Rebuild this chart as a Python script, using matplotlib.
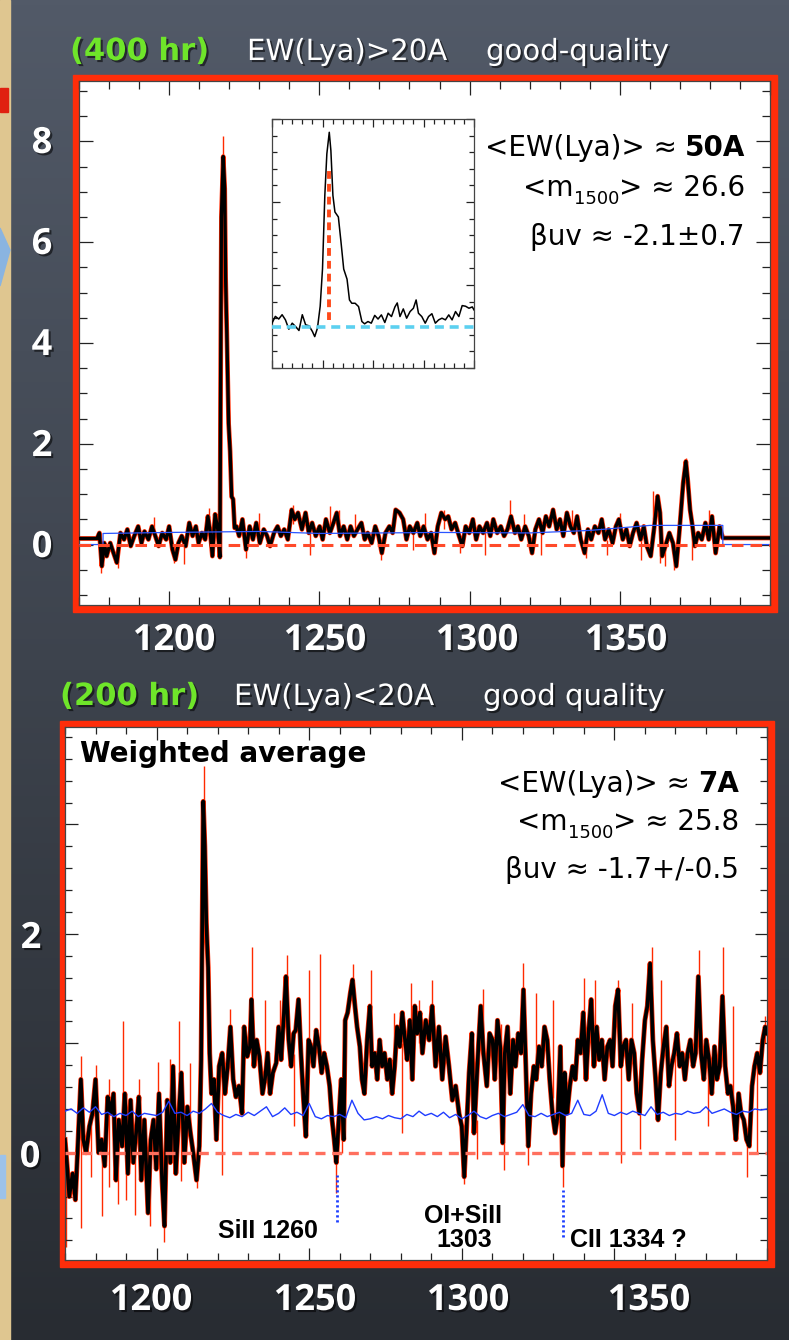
#!/usr/bin/env python3
"""
plot.py
=======
Slide figure: stacked rest-frame UV spectra of Lya emitters.

  Top    - (400 hr) EW(Lya)>20A stack, with a zoom-in inset on Lya
  Bottom - (200 hr) EW(Lya)<20A weighted-average stack, with ISM lines marked

Output:
  out.png (789 x 1340 px)
"""

import numpy as np
import matplotlib
matplotlib.use("Agg")
import matplotlib.pyplot as plt
import matplotlib.patches as mpatches
import matplotlib.patheffects as pe
from matplotlib.ticker import MultipleLocator

# ============================================================
# DATA
# ============================================================
# --- top panel: EW(Lya) > 20A stack (black spectrum) ---
TOP_WAVE = [
    1170.0, 1176.0, 1176.8, 1177.6, 1178.4, 1179.2, 1180.4, 1181.5, 1182.6, 1183.8,
    1185.0, 1186.1, 1187.2, 1188.4, 1189.7, 1190.8, 1191.8, 1193.1, 1194.3, 1195.4,
    1196.5, 1197.7, 1199.0, 1200.0, 1201.1, 1202.1, 1203.1, 1204.2, 1205.5, 1206.7,
    1207.8, 1208.9, 1209.8, 1210.9, 1212.0, 1212.9, 1213.7, 1214.4, 1215.3, 1216.2,
    1216.9, 1217.1, 1217.4, 1218.0, 1218.5, 1218.8, 1219.2, 1219.8, 1220.3, 1220.8,
    1221.3, 1221.8, 1222.4, 1223.3, 1224.4, 1225.6, 1226.8, 1227.9, 1229.0, 1230.2,
    1231.5, 1232.6, 1233.6, 1234.9, 1236.1, 1237.2, 1238.3, 1239.5, 1240.8, 1241.8,
    1242.9, 1244.2, 1245.4, 1246.5, 1247.6, 1248.8, 1250.1, 1251.1, 1252.2, 1253.5,
    1254.7, 1255.8, 1256.9, 1258.1, 1259.3, 1260.4, 1261.5, 1262.7, 1264.0, 1265.1,
    1266.1, 1267.4, 1268.6, 1269.7, 1270.8, 1272.0, 1273.3, 1274.4, 1275.4, 1276.7,
    1277.9, 1279.0, 1280.1, 1281.3, 1282.6, 1283.6, 1284.7, 1286.0, 1287.2, 1288.3,
    1289.4, 1290.6, 1291.9, 1292.9, 1294.0, 1295.2, 1296.5, 1297.6, 1298.7, 1299.9,
    1301.1, 1302.2, 1303.3, 1304.5, 1305.8, 1306.9, 1307.9, 1309.2, 1310.4, 1311.5,
    1312.6, 1313.8, 1315.1, 1316.1, 1317.2, 1318.5, 1319.7, 1320.8, 1321.9, 1323.1,
    1324.3, 1325.4, 1326.5, 1327.8, 1329.0, 1330.1, 1331.2, 1332.4, 1333.6, 1334.7,
    1335.8, 1337.0, 1338.3, 1339.4, 1340.5, 1341.7, 1342.9, 1344.0, 1345.1, 1346.3,
    1347.6, 1348.7, 1349.7, 1351.0, 1352.2, 1353.3, 1354.4, 1355.6, 1356.9, 1358.0,
    1359.0, 1360.3, 1361.5, 1362.6, 1363.4, 1364.1, 1365.2, 1366.5, 1367.7, 1368.8,
    1369.8, 1371.1, 1372.0, 1372.6, 1373.4, 1374.2, 1375.0, 1376.1, 1377.3, 1378.5,
    1379.6, 1380.7, 1381.9, 1383.2, 1384.3, 1400.0,
]
TOP_FLUX = [
    0.12, 0.12, 0.23, -0.43, 0.03, -0.23, 0.03, -0.17, -0.36, 0.23,
    0.10, 0.30, -0.03, 0.17, 0.36, 0.03, 0.26, 0.10, 0.36, 0.17,
    -0.03, 0.23, 0.10, 0.36, -0.10, -0.30, 0.03, 0.17, -0.03, 0.43,
    0.17, 0.36, 0.03, 0.23, 0.10, 0.56, 0.23, -0.23, 0.60, 0.30,
    -0.25, 2.70, 6.50, 7.70, 7.06, 5.30, 4.20, 2.40, 1.85, 0.95,
    0.90, 0.33, 0.36, 0.17, 0.50, -0.10, 0.36, 0.10, 0.43, 0.03,
    0.30, 0.17, -0.03, 0.23, 0.36, 0.17, 0.30, 0.10, 0.69, 0.50,
    0.63, 0.30, 0.63, 0.23, 0.43, 0.17, 0.36, 0.10, 0.50, 0.23,
    0.43, 0.63, 0.17, 0.36, 0.10, 0.36, 0.17, 0.30, 0.43, 0.10,
    0.23, 0.03, 0.36, 0.17, -0.17, 0.23, 0.36, 0.23, 0.69, 0.63,
    0.50, 0.10, 0.36, 0.23, 0.43, 0.17, 0.36, 0.10, 0.23, -0.17,
    0.36, 0.63, 0.50, 0.56, 0.30, 0.43, 0.17, -0.03, 0.36, 0.23,
    0.50, 0.10, 0.36, 0.23, 0.43, 0.17, 0.50, 0.23, 0.36, 0.17,
    0.30, 0.56, 0.23, 0.36, 0.10, 0.36, 0.17, -0.17, 0.30, 0.50,
    0.23, 0.56, 0.36, 0.69, 0.30, 0.50, 0.17, 0.63, 0.36, 0.23,
    0.56, 0.10, -0.17, 0.30, 0.10, 0.36, 0.23, 0.50, 0.10, 0.30,
    0.03, 0.36, 0.50, 0.10, 0.30, -0.03, 0.23, 0.43, 0.10, 0.36,
    -0.03, -0.23, 0.36, 0.96, 0.63, -0.23, -0.03, 0.23, 0.03, -0.43,
    0.23, 1.22, 1.65, 1.29, 0.69, 0.36, -0.03, 0.23, 0.10, 0.43,
    0.10, 0.56, -0.17, 0.36, 0.13, 0.13,
]
# red (unsmoothed) excursions beyond the black trace
TOP_SPIKE_WAVE = [1177.3, 1183.0, 1195.0, 1201.6, 1205.0, 1213.2, 1218.0, 1225.6, 1230.0,
                  1241.1, 1247.0, 1253.5, 1256.5, 1262.0, 1270.5, 1281.3, 1285.0, 1291.4,
                  1296.8, 1305.0, 1313.5, 1318.0, 1323.9, 1334.0, 1338.6, 1345.6, 1350.0,
                  1357.0, 1361.0, 1363.4, 1364.9, 1368.0, 1371.9, 1374.2, 1379.6]
TOP_SPIKE_LO = [-0.56, -0.46, 0.20, -0.36, -0.38, 0.30, 7.50, -0.26, 0.20,
                0.40, -0.20, 0.30, 0.30, 0.25, -0.30, -0.10, 0.20, 0.30,
                -0.17, -0.20, 0.30, 0.20, -0.20, 0.30, -0.26, -0.20, 0.25,
                -0.30, 0.50, -0.36, -0.43, -0.50, 1.40, -0.30, 0.30]
TOP_SPIKE_HI = [0.10, 0.00, 0.55, 0.00, 0.10, 0.73, 8.10, 0.10, 0.62,
                0.79, 0.30, 0.76, 0.69, 0.60, 0.10, 0.20, 0.62, 0.69,
                0.10, 0.30, 0.89, 0.60, 0.20, 0.69, 0.20, 0.10, 0.62,
                0.20, 1.06, 0.40, 0.10, 0.00, 1.72, 0.20, 0.69]
# blue noise spectrum (top)
TOP_NOISE_WAVE = [1170, 1178, 1178, 1200, 1230, 1250, 1290, 1320, 1340, 1360, 1384.3, 1384.3, 1400]
TOP_NOISE_FLUX = [0.00, 0.00, 0.22, 0.24, 0.26, 0.22, 0.24, 0.23, 0.28, 0.38, 0.38, 0.00, 0.00]

# --- inset: zoom on the Lya line (arbitrary units) ---
INSET_X = [0.0, 0.33, 0.67, 1.0, 1.33, 1.67, 2.0, 2.33, 2.67, 3.0,
           3.33, 3.67, 4.0, 4.23, 4.5, 4.77, 5.0, 5.23, 5.43, 5.67,
           5.83, 6.03, 6.23, 6.57, 6.83, 7.1, 7.43, 7.67, 7.9, 8.23,
           8.57, 8.9, 9.17, 9.5, 9.83, 10.17, 10.5, 10.83, 11.17, 11.5,
           11.83, 12.17, 12.4, 12.67, 13.0, 13.33, 13.67, 14.0, 14.27, 14.5,
           14.83, 15.17, 15.5, 15.83, 16.17, 16.5, 16.83, 17.17, 17.5, 17.83,
           18.17, 18.5, 18.83, 19.17, 19.5, 19.83, 20.0]
INSET_Y = [2.70, 3.11, 2.95, 3.21, 2.90, 2.34, 2.70, 2.50, 2.26, 3.21,
           2.60, 2.54, 2.20, 1.89, 2.40, 3.72, 5.96, 10.4, 12.9, 14.2,
           13.1, 10.4, 9.4, 9.1, 7.6, 5.96, 5.35, 4.1, 3.9, 3.9,
           3.7, 2.8, 2.66, 2.8, 2.7, 3.17, 2.95, 3.2, 2.74, 3.3,
           3.1, 3.68, 3.92, 3.1, 3.56, 3.0, 3.4, 3.6, 4.1, 3.3,
           3.1, 2.7, 3.1, 3.27, 2.7, 2.9, 3.0, 2.9, 3.2, 2.9,
           3.4, 3.1, 3.76, 3.72, 3.6, 3.68, 3.5]
INSET_PEAK_X = 5.67
INSET_PEAK_RANGE = [2.9, 12.15]
INSET_CONT = 2.46

# --- bottom panel: EW(Lya) < 20A weighted average ---
BOT_WAVE = [
    1170.0, 1170.7, 1171.4, 1172.5, 1173.4, 1174.1, 1175.2, 1176.0, 1176.9, 1178.0,
    1179.0, 1180.0, 1181.0, 1182.0, 1183.0, 1184.0, 1184.9, 1185.9, 1186.7, 1187.6,
    1188.7, 1189.6, 1190.6, 1191.5, 1192.4, 1193.3, 1194.2, 1195.0, 1196.0, 1197.2,
    1198.1, 1199.0, 1199.9, 1200.8, 1201.8, 1202.6, 1203.5, 1204.5, 1205.4, 1206.3,
    1207.2, 1208.1, 1209.1, 1210.1, 1211.1, 1212.0, 1213.1, 1214.0, 1214.6, 1215.0,
    1215.3, 1215.8, 1216.3, 1216.9, 1217.4, 1218.0, 1218.8, 1219.6, 1220.5, 1221.5,
    1222.4, 1223.3, 1224.2, 1225.1, 1226.0, 1227.0, 1228.0, 1228.7, 1229.7, 1230.6,
    1231.1, 1231.9, 1232.8, 1233.7, 1234.7, 1235.5, 1236.4, 1237.2, 1238.1, 1239.2,
    1240.0, 1240.8, 1241.6, 1242.4, 1243.3, 1244.1, 1244.9, 1245.6, 1246.5, 1247.3,
    1248.1, 1248.9, 1249.8, 1250.6, 1251.4, 1252.3, 1253.2, 1254.1, 1254.9, 1255.8,
    1256.7, 1257.5, 1258.2, 1258.9, 1259.7, 1260.5, 1261.3, 1261.8, 1262.6, 1263.5,
    1264.2, 1265.0, 1265.7, 1266.6, 1267.3, 1268.1, 1269.0, 1269.9, 1270.6, 1271.5,
    1272.3, 1273.1, 1273.9, 1274.7, 1275.6, 1276.4, 1277.2, 1278.0, 1278.8, 1279.7,
    1280.5, 1281.4, 1282.1, 1283.0, 1283.8, 1284.6, 1285.4, 1286.3, 1287.1, 1288.2,
    1289.3, 1290.3, 1291.4, 1292.5, 1293.6, 1294.7, 1295.8, 1296.9, 1298.0, 1299.1,
    1300.0, 1300.8, 1301.5, 1302.4, 1303.3, 1304.0, 1305.1, 1306.2, 1307.1, 1308.2,
    1309.1, 1310.1, 1310.8, 1311.7, 1312.6, 1313.4, 1314.1, 1315.0, 1315.9, 1316.8,
    1317.6, 1318.5, 1319.4, 1320.2, 1321.0, 1321.8, 1322.7, 1323.6, 1324.4, 1325.3,
    1326.2, 1327.1, 1328.0, 1328.8, 1329.7, 1330.6, 1331.5, 1332.3, 1333.0, 1333.7,
    1334.5, 1335.4, 1336.3, 1337.2, 1338.0, 1338.9, 1339.8, 1340.7, 1341.5, 1342.4,
    1343.3, 1344.2, 1345.0, 1345.9, 1346.8, 1347.7, 1348.6, 1349.4, 1350.3, 1351.2,
    1352.1, 1352.9, 1353.8, 1354.7, 1355.6, 1356.5, 1357.3, 1358.2, 1359.1, 1360.0,
    1360.8, 1361.7, 1362.6, 1363.5, 1364.3, 1365.2, 1366.1, 1367.0, 1367.9, 1368.7,
    1369.6, 1370.5, 1371.4, 1372.2, 1373.1, 1374.0, 1374.9, 1375.8, 1376.6, 1377.5,
    1378.4, 1379.3, 1380.1, 1381.0, 1381.9, 1382.8, 1383.6, 1384.5, 1385.4, 1386.3,
    1387.2, 1388.0, 1388.9, 1389.8, 1390.7, 1391.5, 1392.4, 1393.3, 1394.2, 1395.1,
    1395.9, 1396.8, 1397.7, 1398.6, 1399.4, 1400.0,
]
BOT_FLUX = [
    0.12, -0.12, -0.40, -0.19, -0.43, 0.00, 0.67, 0.12, 0.00, 0.24,
    0.36, 0.67, 0.00, 0.12, -0.12, 0.51, 0.36, 0.54, -0.25, 0.30,
    0.06, 0.54, -0.19, 0.48, -0.09, 0.18, 0.51, -0.25, 0.30, -0.55,
    0.12, 0.30, -0.15, 0.54, -0.25, -0.67, 0.48, -0.09, 0.79, -0.19,
    0.30, 0.73, -0.09, 0.42, 0.18, 0.00, -0.25, 0.06, 0.85, 2.19,
    3.21, 2.80, 2.10, 1.69, 0.91, 0.54, 0.67, 0.12, 0.79, 0.91,
    0.54, 0.79, 1.15, 0.67, 0.51, 0.61, 0.36, 1.15, 0.88, 0.97,
    1.40, 0.79, 1.03, 0.88, 0.54, 0.67, 0.91, 0.54, 0.73, 0.82,
    1.15, 0.85, 1.21, 1.61, 1.03, 0.79, 1.09, 1.12, 1.40, 0.91,
    0.51, 0.15, 1.03, 0.97, 0.79, 1.12, 0.97, 0.73, 0.91, 0.79,
    0.61, 0.30, 0.12, -0.09, 0.30, 0.67, 0.12, 1.21, 1.28, 1.46,
    1.58, 1.34, 1.15, 0.97, 0.67, 0.54, 1.03, 1.34, 0.79, 0.91,
    0.67, 1.03, 0.79, 0.91, 0.67, 0.85, 0.54, 0.79, 1.15, 0.97,
    1.28, 1.03, 0.85, 1.21, 0.67, 1.34, 1.09, 1.28, 0.91, 1.21,
    1.03, 1.34, 0.79, 1.15, 0.67, 1.06, 0.79, 0.48, 0.61, 0.36,
    0.24, -0.22, 0.18, 0.73, 1.09, 0.18, 0.79, 1.34, 0.91, 0.61,
    1.09, 1.03, 0.67, 1.21, 0.97, 0.09, 0.91, 1.15, 0.54, 1.03,
    0.79, 1.09, 0.91, 1.49, 0.79, 0.06, 0.54, 0.79, 0.67, 0.97,
    0.79, 1.15, 1.03, 0.67, 0.36, 0.18, 0.36, 0.97, -0.12, 0.73,
    0.36, 0.61, 0.79, 0.67, 1.03, 0.91, 1.28, 0.67, 1.09, 1.40,
    0.79, 1.15, 0.85, 1.03, 0.67, 0.97, 1.03, 0.79, 1.34, 1.49,
    0.79, 0.97, 1.03, 0.67, 1.03, 0.91, 0.54, 0.36, 0.85, 1.21,
    1.34, 1.73, 1.03, 0.67, 0.30, 0.73, 0.97, 1.15, 0.61, 0.79,
    0.91, 1.09, 0.79, 0.91, 0.67, 0.91, 1.03, 0.79, 0.91, 1.61,
    0.91, 0.67, 1.03, 0.85, 0.54, 0.97, 0.67, 0.79, 1.43, 0.79,
    0.54, 0.61, 0.42, 0.12, 0.54, 0.36, 0.30, 0.12, 0.06, 0.61,
    0.79, 0.91, 0.73, 1.03, 1.15, 1.09,
]
BOT_SPIKE_WAVE = [1170.3, 1175.2, 1178.5, 1180.2, 1182.1, 1184.5, 1187.3, 1188.9, 1190.0, 1192.8,
                  1194.4, 1197.7, 1200.4, 1202.3, 1204.3, 1207.4, 1208.1, 1210.9, 1213.3, 1215.4,
                  1221.6, 1224.2, 1231.3, 1235.5, 1240.5, 1242.7, 1244.9, 1249.8, 1253.6, 1258.9,
                  1260.8, 1264.2, 1270.1, 1277.7, 1280.5, 1283.2, 1286.0, 1290.3, 1300.8, 1304.9,
                  1306.8, 1312.8, 1313.9, 1320.2, 1321.8, 1324.3, 1329.8, 1333.0, 1340.2, 1343.5,
                  1351.2, 1352.3, 1355.9, 1358.3, 1362.2, 1365.4, 1369.8, 1377.8, 1380.8, 1385.7,
                  1389.0, 1393.4, 1396.7, 1399.4]
BOT_SPIKE_LO = [-0.86, -0.69, -0.22, 0.30, -0.58, -0.31, -0.47, 0.10, -0.43, -0.57,
                0.20, -0.67, 0.10, -0.82, 0.10, 0.30, -0.26, 0.20, -0.32, 3.00,
                -0.20, 0.90, 1.20, 0.70, 0.90, 1.40, 0.24, 0.90, 0.90, -0.37,
                0.00, 1.40, 1.00, 0.80, 0.18, 1.00, 1.00, 1.10, -0.29, -0.06,
                1.10, 0.90, -0.16, 1.30, -0.11, 0.70, 0.50, -0.31, 0.80, 0.90,
                1.30, -0.09, 0.90, 0.03, 1.50, 0.70, 0.12, 1.40, 0.24, 1.20,
                0.40, -0.22, 0.00, 1.00]
BOT_SPIKE_HI = [0.10, 0.88, 0.30, 0.80, 0.10, 0.67, 0.20, 1.20, 0.10, 0.10,
                0.67, 0.10, 0.83, -0.20, 0.86, 1.20, 0.40, 0.82, 0.00, 3.53,
                0.80, 1.31, 1.88, 1.40, 1.40, 1.81, 0.90, 1.67, 1.82, 0.00,
                0.50, 1.72, 1.67, 1.28, 1.00, 1.55, 1.40, 1.58, 0.00, 0.30,
                1.50, 1.18, 0.30, 1.73, 0.30, 1.46, 1.40, 0.00, 1.60, 1.58,
                1.58, 0.80, 1.37, 0.50, 1.88, 1.58, 0.90, 1.85, 1.00, 1.88,
                1.34, 0.20, 0.80, 1.25]
# blue noise spectrum (bottom), sampled every 2A from 1170 to 1400
BOT_NOISE_FLUX = [
    0.38, 0.40, 0.36, 0.41, 0.37, 0.42, 0.35, 0.37, 0.33, 0.36,
    0.34, 0.38, 0.33, 0.36, 0.35, 0.34, 0.37, 0.47, 0.36, 0.37,
    0.34, 0.38, 0.36, 0.40, 0.45, 0.37, 0.34, 0.32, 0.35, 0.33,
    0.37, 0.34, 0.38, 0.42, 0.33, 0.36, 0.41, 0.35, 0.37, 0.34,
    0.45, 0.33, 0.31, 0.34, 0.33, 0.35, 0.32, 0.48, 0.36, 0.30,
    0.31, 0.33, 0.31, 0.34, 0.32, 0.31, 0.35, 0.33, 0.38, 0.34,
    0.36, 0.33, 0.37, 0.32, 0.35, 0.31, 0.34, 0.38, 0.33, 0.31,
    0.34, 0.36, 0.33, 0.35, 0.37, 0.44, 0.34, 0.33, 0.36, 0.33,
    0.35, 0.37, 0.34, 0.36, 0.48, 0.35, 0.34, 0.38, 0.53, 0.36,
    0.34, 0.37, 0.35, 0.38, 0.36, 0.34, 0.42, 0.35, 0.37, 0.34,
    0.36, 0.35, 0.38, 0.36, 0.37, 0.42, 0.36, 0.38, 0.40, 0.37,
    0.35, 0.38, 0.37, 0.40, 0.39, 0.40,
]
# interstellar absorption markers (blue dotted ticks)
ISM_WAVE = [1259.0, 1333.2]
ISM_TOP = [-0.20, -0.34]
ISM_BOTTOM = [-0.63, -0.77]

# tick label text (drawn on the slide, outside the red frames)
X_LABELS = ["1200", "1250", "1300", "1350"]
TOP_Y_LABELS = ["8", "6", "4", "2", "0"]
BOT_Y_LABELS = ["2", "0"]

# ============================================================
# CONFIGURATION
# ============================================================
W, H = 789, 1340
GREEN = "#6fe52a"
FRAME_RED = "#ff2d0a"
SPIKE_RED = "#ff2a00"
SLIDE_FONT = ["DejaVu Sans"]
NUM_FONT = ["Open Sans", "DejaVu Sans"]
PLOT_FONT = ["Liberation Sans", "DejaVu Sans"]
SHADOW = [pe.withSimplePatchShadow(offset=(1.5, -1.5), shadow_rgbFace="black", alpha=0.55)]
STAT_SIZE = 20

fig = plt.figure(figsize=(W / 100, H / 100), dpi=100)


def fx(x):
    return x / W


def fy(y):
    return 1 - y / H


def rect(x0, y0, x1, y1):
    """Pixel box (top-left origin) -> figure-fraction axes rect."""
    return [x0 / W, 1 - y1 / H, (x1 - x0) / W, (y1 - y0) / H]


def slide_text(x, y, s, **kw):
    kw.setdefault("va", "baseline")
    return fig.text(fx(x), fy(y), s, zorder=20, **kw)


def right_runs(runs, x_right, y_base):
    """Right-aligned line built from (text, size, weight, dy, gap) runs."""
    renderer = fig.canvas.get_renderer()
    x = x_right
    for s, size, weight, dy, gap in reversed(runs):
        t = slide_text(x, y_base + dy, s, ha="right", fontsize=size,
                       fontweight=weight, family=SLIDE_FONT, color="black")
        x -= t.get_window_extent(renderer).width + gap


def style_axes(ax, xmaj, xmin, ymaj, ymin, lmaj, lmin):
    ax.xaxis.set_major_locator(MultipleLocator(xmaj))
    ax.xaxis.set_minor_locator(MultipleLocator(xmin))
    ax.yaxis.set_major_locator(MultipleLocator(ymaj))
    ax.yaxis.set_minor_locator(MultipleLocator(ymin))
    ax.tick_params(which="both", direction="in", top=True, right=True,
                   labelbottom=False, labelleft=False, color="#222222", width=0.9)
    ax.tick_params(which="major", length=lmaj)
    ax.tick_params(which="minor", length=lmin)
    for sp in ax.spines.values():
        sp.set_color("#444444")
        sp.set_linewidth(0.9)


def draw_background():
    bg = fig.add_axes([0, 0, 1, 1], zorder=0)
    bg.set_xlim(0, W)
    bg.set_ylim(H, 0)
    bg.axis("off")
    top = np.array([0x52, 0x5a, 0x68]) / 255
    bot = np.array([0x28, 0x2c, 0x32]) / 255
    t = np.linspace(0, 1, 256)[:, None, None]
    grad = top * (1 - t) + bot * t
    bg.imshow(grad, extent=(0, W, H, 0), aspect="auto", zorder=0)
    # parchment strip and slide leftovers on the left edge
    bg.add_patch(mpatches.Rectangle((0, 0), 10, H, color="#dfc690", zorder=1))
    bg.add_patch(mpatches.Rectangle((0, 88), 8, 24, color="#e02010", zorder=2))
    bg.add_patch(mpatches.Polygon([(0, 228), (10, 250), (0, 286)], color="#8ab4e0", zorder=2))
    bg.add_patch(mpatches.Rectangle((0, 1155), 5, 43, color="#9cc2ea", zorder=2))
    # red frames round the two plots
    bg.add_patch(mpatches.Rectangle((73, 75), 704, 537, color=FRAME_RED, zorder=3))
    bg.add_patch(mpatches.Rectangle((60, 721), 714, 546, color=FRAME_RED, zorder=3))


def draw_top_panel():
    ax = fig.add_axes(rect(79, 81, 770, 605), zorder=2)
    ax.set_facecolor("white")
    ax.set_xlim(1170, 1400)
    ax.set_ylim(-1.2, 9.2)
    style_axes(ax, 50, 10, 2, 0.5, 10, 6)

    ax.vlines(TOP_SPIKE_WAVE, TOP_SPIKE_LO, TOP_SPIKE_HI, color=SPIKE_RED, lw=1.0, zorder=1)
    ax.plot(TOP_WAVE, TOP_FLUX, color=SPIKE_RED, lw=3.4, zorder=2)
    ax.plot(TOP_WAVE, TOP_FLUX, color="black", lw=2.4, zorder=3)
    ax.plot(TOP_NOISE_WAVE, TOP_NOISE_FLUX, color="#2a55ff", lw=0.9, zorder=4)
    ax.axhline(0, color="#ff4a2a", lw=2.2, dashes=(3.8, 2.3), zorder=5)

    # inset zoom on Lya
    axi = fig.add_axes(rect(272, 119, 474, 368), zorder=3)
    axi.set_facecolor("white")
    axi.set_xlim(0, 20)
    axi.set_ylim(0, 15)
    style_axes(axi, 5, 1, 5, 1, 6, 3.5)
    axi.plot(INSET_X, INSET_Y, color="black", lw=1.1, zorder=3)
    axi.axhline(INSET_CONT, color="#5cd0f0", lw=2.6, dashes=(2.5, 1.6), zorder=4)
    axi.vlines(INSET_PEAK_X, INSET_PEAK_RANGE[0], INSET_PEAK_RANGE[1], color="#ff4a1a",
               lw=2.8, linestyles=[(0, (2.0, 1.3))], zorder=4)

    # slide text
    right_runs([("<EW(Lya)> \u2248", STAT_SIZE, "normal", 0, 0),
                ("50A", STAT_SIZE, "bold", 0, 8)], 745, 156)
    right_runs([("<m", STAT_SIZE, "normal", 0, 0), ("1500", 13, "normal", 8, 0),
                ("> \u2248 26.6", STAT_SIZE, "normal", 0, 0)], 745, 196)
    right_runs([("\u03b2uv \u2248 -2.1\u00b10.7", STAT_SIZE, "normal", 0, 0)], 745, 245)

    for s, xc in zip(X_LABELS, [174, 325, 477, 626]):
        slide_text(xc, 650, s, ha="center", fontsize=26, fontweight="bold",
                   family=NUM_FONT, color="white", path_effects=SHADOW)
    for s, yc in zip(TOP_Y_LABELS, [141, 242, 343, 444, 545]):
        slide_text(42, yc + 12, s, ha="center", fontsize=26, fontweight="bold",
                   family=NUM_FONT, color="white", path_effects=SHADOW)

    slide_text(70, 60, "(400 hr)", fontsize=22, fontweight="bold", family=SLIDE_FONT,
               color=GREEN, path_effects=SHADOW)
    slide_text(247, 60, "EW(Lya)>20A", fontsize=21, family=SLIDE_FONT, color="white",
               path_effects=SHADOW)
    slide_text(486, 60, "good-quality", fontsize=21, family=SLIDE_FONT, color="white",
               path_effects=SHADOW)


def draw_bottom_panel():
    ax = fig.add_axes(rect(65, 727, 767, 1260), zorder=2)
    ax.set_facecolor("white")
    ax.set_xlim(1170, 1400)
    ax.set_ylim(-0.98, 3.89)
    style_axes(ax, 50, 10, 1, 0.2, 9, 5)

    noise_wave = np.linspace(1170, 1400, len(BOT_NOISE_FLUX))
    ax.vlines(BOT_SPIKE_WAVE, BOT_SPIKE_LO, BOT_SPIKE_HI, color=SPIKE_RED, lw=1.0, zorder=1)
    ax.plot(BOT_WAVE, BOT_FLUX, color=SPIKE_RED, lw=3.6, zorder=2)
    ax.plot(BOT_WAVE, BOT_FLUX, color="black", lw=2.6, zorder=3)
    ax.plot(noise_wave, BOT_NOISE_FLUX, color="#1f3cff", lw=1.0, zorder=4)
    ax.axhline(0, color="#ff6f5e", lw=2.4, dashes=(3, 2), zorder=5)
    ax.vlines(ISM_WAVE, ISM_BOTTOM, ISM_TOP, color="#1a3cff", lw=2.0,
              linestyles=[(0, (0.8, 1.0))], zorder=5)

    slide_text(80, 762, "Weighted average", fontsize=20, fontweight="bold",
               family=SLIDE_FONT, color="black")
    right_runs([("<EW(Lya)> \u2248", STAT_SIZE, "normal", 0, 0),
                ("7A", STAT_SIZE, "bold", 0, 8)], 739, 792)
    right_runs([("<m", STAT_SIZE, "normal", 0, 0), ("1500", 13, "normal", 8, 0),
                ("> \u2248 25.8", STAT_SIZE, "normal", 0, 0)], 739, 830)
    right_runs([("\u03b2uv \u2248 -1.7+/-0.5", STAT_SIZE, "normal", 0, 0)], 739, 878)

    slide_text(218, 1238, "SiII 1260", fontsize=18, fontweight="bold", family=PLOT_FONT)
    slide_text(463, 1223, "OI+SiII", ha="center", fontsize=18, fontweight="bold", family=PLOT_FONT)
    slide_text(464, 1247, "1303", ha="center", fontsize=18, fontweight="bold", family=PLOT_FONT)
    slide_text(570, 1247, "CII 1334 ?", fontsize=18, fontweight="bold", family=PLOT_FONT)

    for s, xc in zip(X_LABELS, [151, 315, 468, 649]):
        slide_text(xc, 1310, s, ha="center", fontsize=26, fontweight="bold",
                   family=NUM_FONT, color="white", path_effects=SHADOW)
    for s, xc, yb in zip(BOT_Y_LABELS, [31, 30], [948, 1167]):
        slide_text(xc, yb, s, ha="center", fontsize=26, fontweight="bold",
                   family=NUM_FONT, color="white", path_effects=SHADOW)

    slide_text(60, 705, "(200 hr)", fontsize=22, fontweight="bold", family=SLIDE_FONT,
               color=GREEN, path_effects=SHADOW)
    slide_text(234, 705, "EW(Lya)<20A", fontsize=21, family=SLIDE_FONT, color="white",
               path_effects=SHADOW)
    slide_text(483, 705, "good quality", fontsize=21, family=SLIDE_FONT, color="white",
               path_effects=SHADOW)


if __name__ == "__main__":
    draw_background()
    draw_top_panel()
    draw_bottom_panel()
    fig.savefig("out.png", dpi=100)
    plt.close(fig)
